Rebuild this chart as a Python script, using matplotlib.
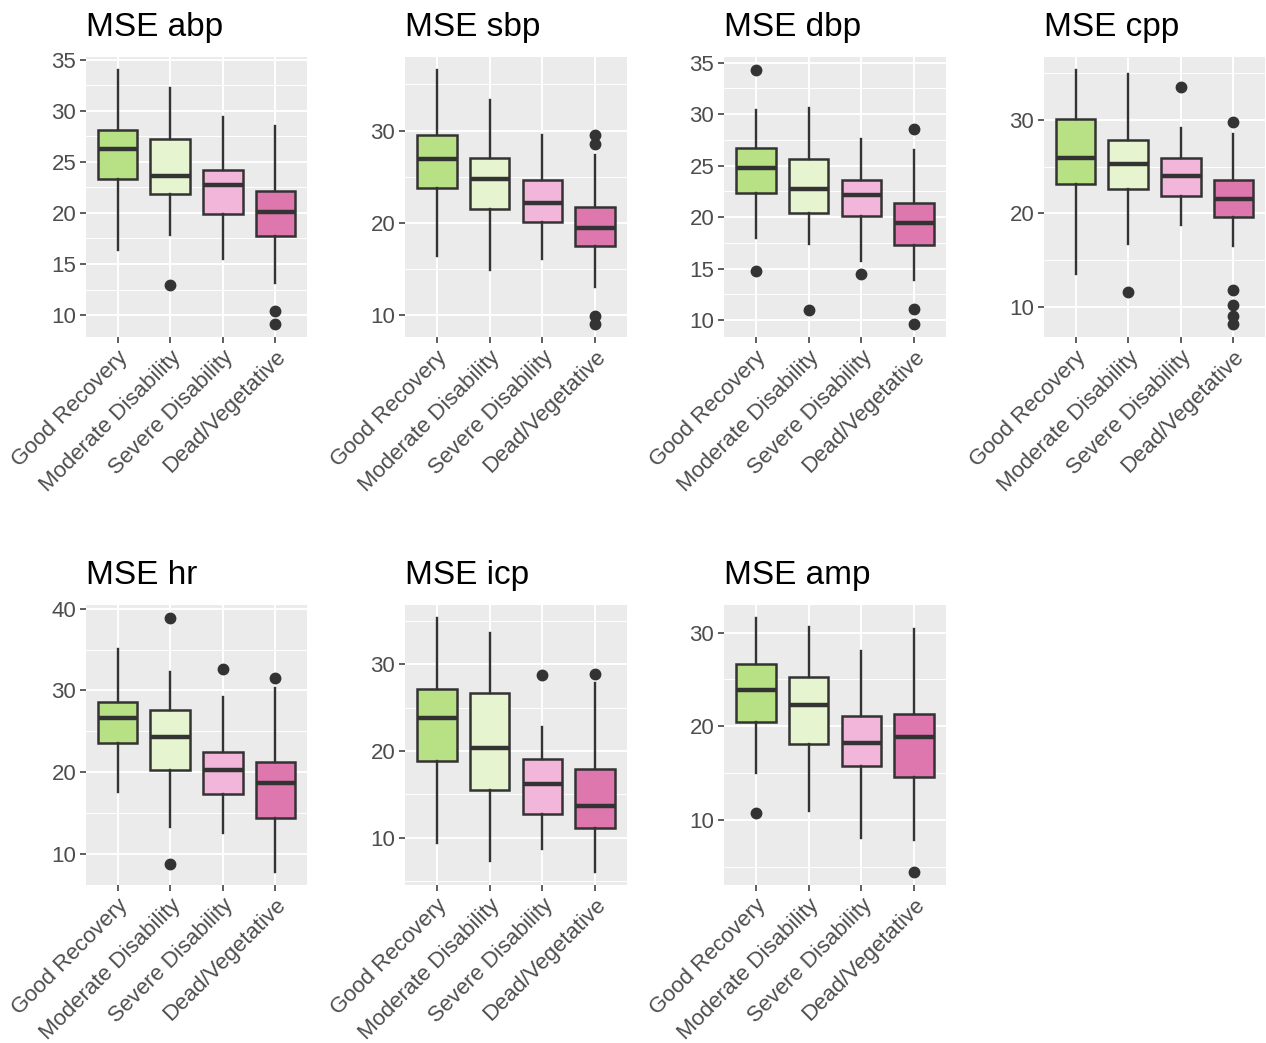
import matplotlib
matplotlib.use("Agg")
import matplotlib.pyplot as plt

plt.rcParams["font.family"] = ["Liberation Sans", "DejaVu Sans"]

groups = ["Good Recovery", "Moderate Disability", "Severe Disability", "Dead/Vegetative"]
fills = ["#B8E186", "#E6F5D0", "#F1B6DA", "#DE77AE"]

# five-number summaries per group: whisker low, Q1, median, Q3, whisker high
abp_box = [[16.4, 23.3, 26.2, 28.1, 34.0], [17.8, 21.8, 23.6, 27.2, 32.2],
           [15.5, 19.9, 22.7, 24.2, 29.4], [13.1, 17.7, 20.1, 22.1, 28.5]]
abp_out = [[], [12.9], [], [10.4, 9.1]]

sbp_box = [[16.4, 23.8, 26.9, 29.5, 36.6], [14.9, 21.5, 24.7, 27.0, 33.3],
           [16.1, 20.1, 22.2, 24.6, 29.5], [13.0, 17.5, 19.4, 21.7, 27.4]]
sbp_out = [[], [], [], [29.5, 28.6, 9.9, 9.0]]

dbp_box = [[18.0, 22.3, 24.8, 26.7, 30.4], [17.4, 20.4, 22.7, 25.6, 30.6],
           [15.7, 20.1, 22.1, 23.6, 27.6], [13.9, 17.3, 19.4, 21.4, 26.5]]
dbp_out = [[34.3, 14.8], [11.0], [14.5], [28.5, 11.1, 9.6]]

cpp_box = [[13.5, 23.1, 25.9, 30.1, 35.4], [16.7, 22.6, 25.3, 27.9, 34.9],
           [18.7, 21.9, 24.0, 25.9, 29.2], [16.5, 19.6, 21.5, 23.6, 28.5]]
cpp_out = [[], [11.6], [33.5], [29.8, 11.8, 10.2, 9.0, 8.1]]

hr_box = [[17.5, 23.5, 26.6, 28.6, 35.1], [13.3, 20.2, 24.3, 27.6, 32.2],
          [12.5, 17.3, 20.2, 22.4, 29.2], [7.7, 14.4, 18.6, 21.2, 30.3]]
hr_out = [[], [38.9, 8.7], [32.6], [31.5]]

icp_box = [[9.4, 18.9, 23.8, 27.2, 35.4], [7.3, 15.5, 20.3, 26.7, 33.6],
           [8.7, 12.7, 16.2, 19.1, 22.8], [6.0, 11.1, 13.7, 17.9, 27.9]]
icp_out = [[], [], [28.8], [28.9]]

amp_box = [[15.0, 20.5, 23.9, 26.7, 31.6], [11.0, 18.1, 22.3, 25.3, 30.6],
           [8.1, 15.8, 18.2, 21.1, 28.0], [7.9, 14.6, 18.9, 21.3, 30.4]]
amp_out = [[10.7], [], [], [4.4]]

panels = [
    ("MSE abp", abp_box, abp_out, [10, 15, 20, 25, 30, 35]),
    ("MSE sbp", sbp_box, sbp_out, [10, 20, 30]),
    ("MSE dbp", dbp_box, dbp_out, [10, 15, 20, 25, 30, 35]),
    ("MSE cpp", cpp_box, cpp_out, [10, 20, 30]),
    ("MSE hr", hr_box, hr_out, [10, 20, 30, 40]),
    ("MSE icp", icp_box, icp_out, [10, 20, 30]),
    ("MSE amp", amp_box, amp_out, [10, 20, 30]),
]

W, H = 1266, 1043
fig = plt.figure(figsize=(W / 100, H / 100), dpi=100)

col_x = [(86, 307), (405, 627), (724, 946), (1044, 1265)]
row_y = [(57, 337), (605, 885)]

for i, (title, box, out, ticks) in enumerate(panels):
    r, c = divmod(i, 4)
    x0, x1 = col_x[c]
    y0, y1 = row_y[r]
    ax = fig.add_axes([x0 / W, 1 - y1 / H, (x1 - x0) / W, (y1 - y0) / H])
    ax.set_facecolor("#EBEBEB")

    stats = []
    for b, o in zip(box, out):
        stats.append(dict(whislo=b[0], q1=b[1], med=b[2], q3=b[3], whishi=b[4], fliers=o))
    positions = list(range(len(groups)))
    art = ax.bxp(stats, positions=positions, widths=0.75, patch_artist=True,
                 showcaps=False,
                 boxprops=dict(edgecolor="#333333", linewidth=1.8),
                 whiskerprops=dict(color="#333333", linewidth=1.7),
                 medianprops=dict(color="#333333", linewidth=3.2, solid_capstyle="butt"),
                 flierprops=dict(marker="o", markerfacecolor="#333333",
                                 markeredgecolor="#333333", markersize=7.5),
                 zorder=3)
    for patch, fc in zip(art["boxes"], fills):
        patch.set_facecolor(fc)

    ax.set_yticks(ticks)
    step = ticks[1] - ticks[0]
    minors = [ticks[0] - step / 2] + [t + step / 2 for t in ticks]
    ax.set_yticks(minors, minor=True)

    # 5% padding around the data range, set after the ticks so they don't widen it
    vals = [v for b in box for v in b] + [v for o in out for v in o]
    lo, hi = min(vals), max(vals)
    pad = (hi - lo) * 0.05
    ax.set_ylim(lo - pad, hi + pad)
    ax.set_xlim(-0.6, len(groups) - 0.4)

    ax.grid(True, which="major", color="white", linewidth=1.4, zorder=0)
    ax.grid(True, which="minor", axis="y", color="white", linewidth=0.7, zorder=0)
    ax.set_axisbelow(True)

    ax.set_xticks(positions)
    ax.set_xticklabels(groups, rotation=45, ha="right", va="top",
                       rotation_mode="anchor")
    ax.tick_params(which="major", length=4, width=1.1, color="#333333",
                   labelsize=16, labelcolor="#4D4D4D", pad=3)
    ax.tick_params(which="minor", length=0)
    for s in ax.spines.values():
        s.set_visible(False)

    ax.set_title(title, loc="left", fontsize=24, pad=15, color="black")

fig.savefig("out.png", dpi=100)
